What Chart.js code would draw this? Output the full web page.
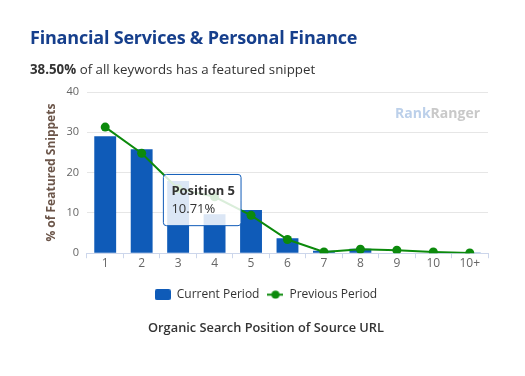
<!DOCTYPE html>
<html>
<head>
<meta charset="utf-8">
<script src="https://cdn.jsdelivr.net/npm/chart.js"></script>
<style>
  body { margin: 0; background: #fff; }
  #wrap { position: relative; width: 525px; height: 376px; overflow: hidden; }
  #chart { position: absolute; left: 0; top: 0; }
  .title { position: absolute; left: 30px; top: 25px; font-family: "Open Sans", sans-serif; font-weight: 700; font-size: 18px; letter-spacing: -0.2px; color: #163f8c; white-space: nowrap; }
  .subtitle { position: absolute; left: 30px; top: 60px; font-family: "Open Sans", sans-serif; font-size: 13.3px; color: #333; white-space: nowrap; }
  .brand { position: absolute; left: 395px; top: 103px; font-family: "Open Sans", sans-serif; font-weight: 700; font-size: 14px; white-space: nowrap; }
</style>
</head>
<body>
<div id="wrap">
  <canvas id="chart" width="525" height="376"></canvas>
  <div class="title">Financial Services &amp; Personal Finance</div>
  <div class="subtitle"><b>38.50%</b> of all keywords has a featured snippet</div>
  <div class="brand"><span style="color:#bcd0ea">Rank</span><span style="color:#c9c9c9">Ranger</span></div>
</div>
<script>
// chart data
const positions = ["1", "2", "3", "4", "5", "6", "7", "8", "9", "10", "10+"];
const currentPeriod = [29.0, 25.8, 17.9, 9.7, 10.71, 3.7, 0.6, 1.1, 0.1, 0.1, 0.05];
const previousPeriod = [31.3, 24.8, 16.0, 14.0, 9.4, 3.4, 0.3, 1.0, 0.75, 0.3, 0.05];
const yTicks = [0, 10, 20, 30, 40];

const blue = "#0f5bb8";
const green = "#0c8a0c";

// legend icons
function barIcon() {
    let c = document.createElement("canvas");
    c.width = 16; c.height = 11;
    let g = c.getContext("2d");
    g.fillStyle = blue;
    g.beginPath();
    g.roundRect(0, 0, 16, 11, 2);
    g.fill();
    return c;
}
function lineIcon() {
    let c = document.createElement("canvas");
    c.width = 16; c.height = 9;
    let g = c.getContext("2d");
    g.strokeStyle = green;
    g.lineWidth = 2;
    g.beginPath(); g.moveTo(0, 4.5); g.lineTo(16, 4.5); g.stroke();
    g.fillStyle = green;
    g.beginPath(); g.arc(8, 4.5, 4, 0, Math.PI * 2); g.fill();
    return c;
}

Chart.Tooltip.positioners.leftOfBar = function(items) {
    if (!items.length) return false;
    let el = items[0].element;
    return { x: el.x, y: el.y - 10 };
};

const font = "'Open Sans', sans-serif";

const chart = new Chart(document.getElementById("chart"), {
    type: "bar",
    data: {
        labels: positions,
        datasets: [
            {
                type: "line",
                label: "Previous Period",
                data: previousPeriod,
                borderColor: green,
                backgroundColor: green,
                borderWidth: 2,
                pointRadius: 4.5,
                pointBackgroundColor: green,
                pointBorderWidth: 0,
                tension: 0,
                order: 0
            },
            {
                label: "Current Period",
                data: currentPeriod,
                backgroundColor: blue,
                categoryPercentage: 1,
                barPercentage: 0.6,
                order: 1
            }
        ]
    },
    options: {
        responsive: false,
        animation: false,
        events: [],
        layout: { padding: { top: 92, left: 44, right: 37, bottom: 30 } },
        scales: {
            x: {
                grid: { offset: true, drawOnChartArea: false, drawTicks: true, tickLength: 5, color: "#ccd6eb" },
                border: { color: "#ccd6eb" },
                ticks: { color: "#666", font: { family: font, size: 12 }, padding: -2 },
                afterFit: function(scale) {
                    // extra room between the axis labels and the legend
                    scale.height += 12;
                }
            },
            y: {
                min: 0, max: 40,
                afterBuildTicks: function(scale) {
                    scale.ticks = yTicks.map(v => ({ value: v }));
                },
                grid: { color: "#e6e6e6", drawTicks: false },
                border: { display: false },
                ticks: { color: "#666", font: { family: font, size: 11 }, padding: 8 },
                title: {
                    display: true,
                    text: "% of Featured Snippets",
                    color: "#6b5549",
                    font: { family: font, size: 12, weight: "bold" },
                    padding: { top: 0, bottom: 0 }
                }
            }
        },
        plugins: {
            legend: {
                position: "bottom",
                reverse: true,
                labels: {
                    color: "#333",
                    font: { family: font, size: 12 },
                    usePointStyle: true,
                    pointStyleWidth: 16,
                    padding: 8,
                    generateLabels: function(ch) {
                        return ch.data.datasets.map((ds, i) => ({
                            text: ds.label,
                            datasetIndex: i,
                            pointStyle: ds.type === "line" ? lineIcon() : barIcon(),
                            fontColor: "#333",
                            lineWidth: 0,
                            hidden: false
                        }));
                    }
                }
            },
            title: {
                display: true,
                position: "bottom",
                text: "Organic Search Position of Source URL",
                color: "#333",
                font: { family: font, size: 12.8, weight: "600" },
                padding: { top: 10, bottom: 10 }
            },
            tooltip: {
                position: "leftOfBar",
                xAlign: "right",
                yAlign: "center",
                caretSize: 0,
                caretPadding: 10,
                backgroundColor: "rgba(255,255,255,0.85)",
                borderColor: blue,
                borderWidth: 1,
                cornerRadius: 3,
                displayColors: false,
                padding: { top: 9, bottom: 9, left: 8, right: 6 },
                titleColor: "#333",
                bodyColor: "#333",
                titleFont: { family: font, size: 13, weight: "bold" },
                bodyFont: { family: font, size: 13 },
                titleMarginBottom: 2,
                callbacks: {
                    title: items => "Position " + items[0].label,
                    label: item => item.parsed.y.toFixed(2) + "%"
                }
            }
        }
    }
});

chart.tooltip.setActiveElements([{ datasetIndex: 1, index: 4 }], { x: 0, y: 0 });
chart.update();
</script>
</body>
</html>
